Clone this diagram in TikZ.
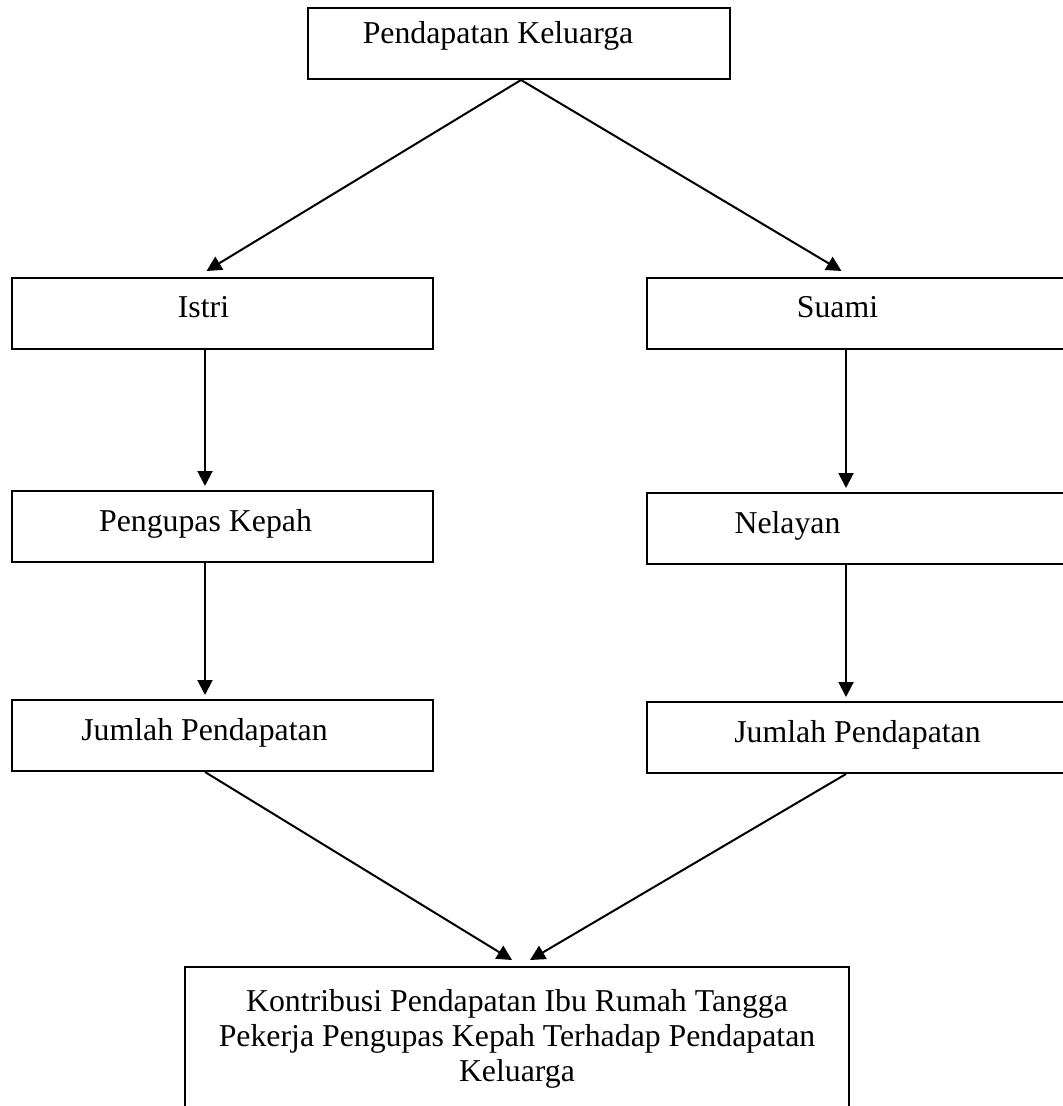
\documentclass[tikz,border=0pt]{standalone}
\usepackage{fontspec}
\setmainfont{Liberation Serif}
\usetikzlibrary{positioning, arrows.meta}

\begin{document}
\begin{tikzpicture}[x=0.5pt, y=-0.5pt,
        font=\fontsize{15.9pt}{18pt}\selectfont,
        every edge/.style={->, draw=black, >={Triangle[length=7.5pt, width=7.5pt]},
            line width=1pt, shorten >=2pt},
        box/.style={draw=black, line width=1pt, rectangle, inner sep=0pt,
            minimum width=210.5pt, minimum height=35.5pt,
            text height=11pt, text depth=6.5pt},
        bigbox/.style={draw=black, line width=1pt, rectangle, inner sep=0pt,
            minimum width=332pt, minimum height=72pt, align=center,
            font=\fontsize{15.9pt}{17.5pt}\selectfont},
    ]

    \useasboundingbox (0,0) rectangle (1063,1106);

    \coordinate (colL) at (205,0);
    \coordinate (colR) at (846,0);

    \node[box, minimum width=211pt, text depth=11pt] (pk) at (519,43.5) {Pendapatan Keluarga\hspace*{21pt}};

    \node[box] (istri) at (222.5,313.5) {Istri\hspace*{19pt}};
    \node[box] (suami) at (857.5,313.5) {Suami\hspace*{20pt}};

    \node[box] (kepah) at (222.5,526.5) {Pengupas Kepah\hspace*{17pt}};
    \node[box] (nelayan) at (857.5,528.5) {Nelayan\hspace*{70pt}};

    \node[box] (jmlL) at (222.5,735.5) {Jumlah Pendapatan\hspace*{18pt}};
    \node[box] (jmlR) at (857.5,737.5) {Jumlah Pendapatan};

    \node[bigbox, anchor=north] (kontribusi) at (517,966)
        {Kontribusi Pendapatan Ibu Rumah Tangga\\
         Pekerja Pengupas Kepah Terhadap Pendapatan\\
         Keluarga};

    \path ([xshift=1pt]pk.south) edge [shorten >=0pt] ([shift={(-16,-6)}]istri.north);
    \path ([xshift=1pt]pk.south) edge [shorten >=0pt] ([shift={(-16,-6)}]suami.north);

    \path (istri.south -| colL) edge (kepah.north -| colL);
    \path (kepah.south -| colL) edge (jmlL.north -| colL);
    \path (suami.south -| colR) edge (nelayan.north -| colR);
    \path (nelayan.south -| colR) edge (jmlR.north -| colR);

    \path (jmlL.south -| colL) edge [shorten >=0pt] ([shift={(-5,-6)}]kontribusi.north);
    \path (jmlR.south -| colR) edge [shorten >=0pt] ([shift={(13,-6)}]kontribusi.north);

\end{tikzpicture}
\end{document}
